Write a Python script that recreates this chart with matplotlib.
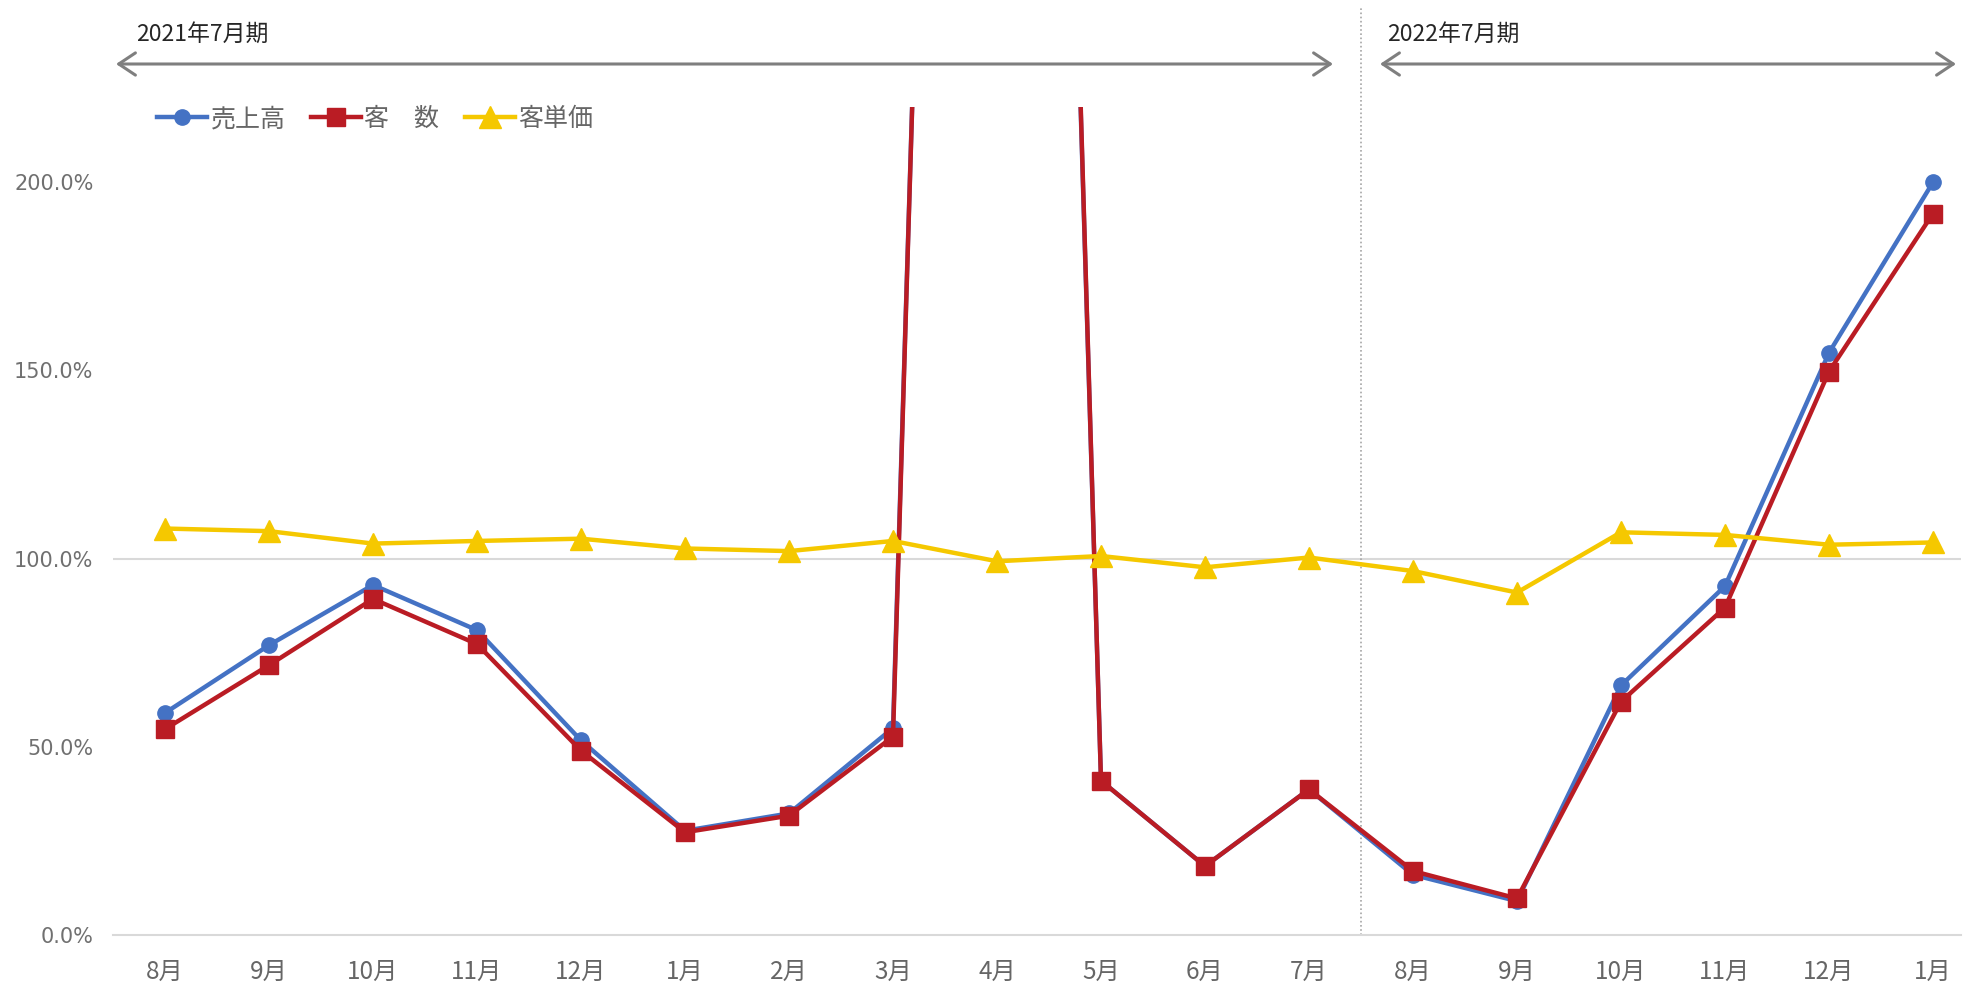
import matplotlib
matplotlib.use("Agg")
import matplotlib.pyplot as plt
from matplotlib.patches import FancyArrowPatch
from matplotlib.lines import Line2D

plt.rcParams['font.family'] = ['Noto Sans CJK JP', 'DejaVu Sans']

# ---- data ----
months = ['8月', '9月', '10月', '11月', '12月', '1月', '2月', '3月', '4月', '5月',
          '6月', '7月', '8月', '9月', '10月', '11月', '12月', '1月']
sales = [59.0, 77.0, 93.0, 81.0, 51.7, 27.7, 32.3, 55.0, 953.0, 41.0,
         18.3, 38.7, 16.0, 9.0, 66.3, 92.7, 154.7, 200.0]
customers = [54.7, 71.7, 89.3, 77.3, 49.0, 27.3, 31.7, 52.7, 960.0, 41.0,
             18.3, 38.7, 17.0, 9.7, 62.0, 87.0, 149.7, 191.7]
unit_price = [108.0, 107.3, 104.0, 104.7, 105.3, 102.7, 102.0, 104.7, 99.3, 100.7,
              97.7, 100.3, 96.7, 91.0, 107.0, 106.3, 103.7, 104.3]
series_names = ['売上高', '客\u3000数', '客単価']
period_labels = ['2021年7月期', '2022年7月期']
yticks = [0, 50, 100, 150, 200]

W, H = 1968, 989
fig = plt.figure(figsize=(W / 100, H / 100), dpi=100)
unit = 104.0
x_right = 17.27
ax = fig.add_axes([113 / W, 1 - 935 / H, (x_right + 0.5) * unit / W, 828 / H])

x = list(range(len(months)))
blue, red, yellow = '#4472C4', '#BA1C24', '#F5C800'

ax.plot(x, sales, color=blue, lw=3.2, marker='o', markersize=11, zorder=3,
        label=series_names[0], solid_joinstyle='round')
ax.plot(x, customers, color=red, lw=3.2, marker='s', markersize=12.5, zorder=4,
        label=series_names[1], solid_joinstyle='round')
ax.plot(x, unit_price, color=yellow, lw=3.2, marker='^', markersize=16, zorder=5,
        label=series_names[2], solid_joinstyle='round')

ax.set_xlim(-0.5, x_right)
ax.set_ylim(0, 220)
ax.axhline(100, color='#D9D9D9', lw=1.5, zorder=1)

for s in ['top', 'right', 'left']:
    ax.spines[s].set_visible(False)
ax.spines['bottom'].set_color('#D9D9D9')
ax.spines['bottom'].set_linewidth(1.5)

ax.set_xticks(x)
ax.set_xticklabels(months, fontsize=17.5, color='#666666')
ax.set_yticks(yticks)
ax.set_yticklabels([f'{v:.1f}%' for v in yticks], fontsize=15, color='#707070',
                   family='DejaVu Sans')
ax.tick_params(axis='x', length=0, pad=17)
ax.tick_params(axis='y', length=0, pad=14)

# period divider (dotted)
div = Line2D([11.5, 11.5], [0, (935 - 6) / 828], transform=ax.get_xaxis_transform(),
             color='#A6A6A6', lw=1.2, ls=(0, (1, 1.5)), clip_on=False)
ax.add_line(div)

# arrows
for (x0, x1) in [(116, 1333), (1380, 1956)]:
    arr = FancyArrowPatch((x0 / W, 1 - 64 / H), (x1 / W, 1 - 64 / H),
                          transform=fig.transFigure,
                          arrowstyle='<->,head_length=0.6,head_width=0.4',
                          mutation_scale=20, color='#7F7F7F', lw=2.2,
                          shrinkA=0, shrinkB=0)
    fig.add_artist(arr)

fig.text(136 / W, 1 - 34 / H, period_labels[0], fontsize=16.5, color='#262626',
         ha='left', va='center')
fig.text(1387 / W, 1 - 34 / H, period_labels[1], fontsize=16.5, color='#262626',
         ha='left', va='center')

leg = ax.legend(loc='center left', bbox_to_anchor=(157 / W, 1 - 119 / H),
                bbox_transform=fig.transFigure, ncol=3, frameon=False,
                fontsize=18, handlelength=2.0, handletextpad=0.15,
                columnspacing=1.0, borderpad=0, borderaxespad=0, numpoints=1)
for t in leg.get_texts():
    t.set_color('#666666')

fig.savefig('out.png', dpi=100, facecolor='white')
